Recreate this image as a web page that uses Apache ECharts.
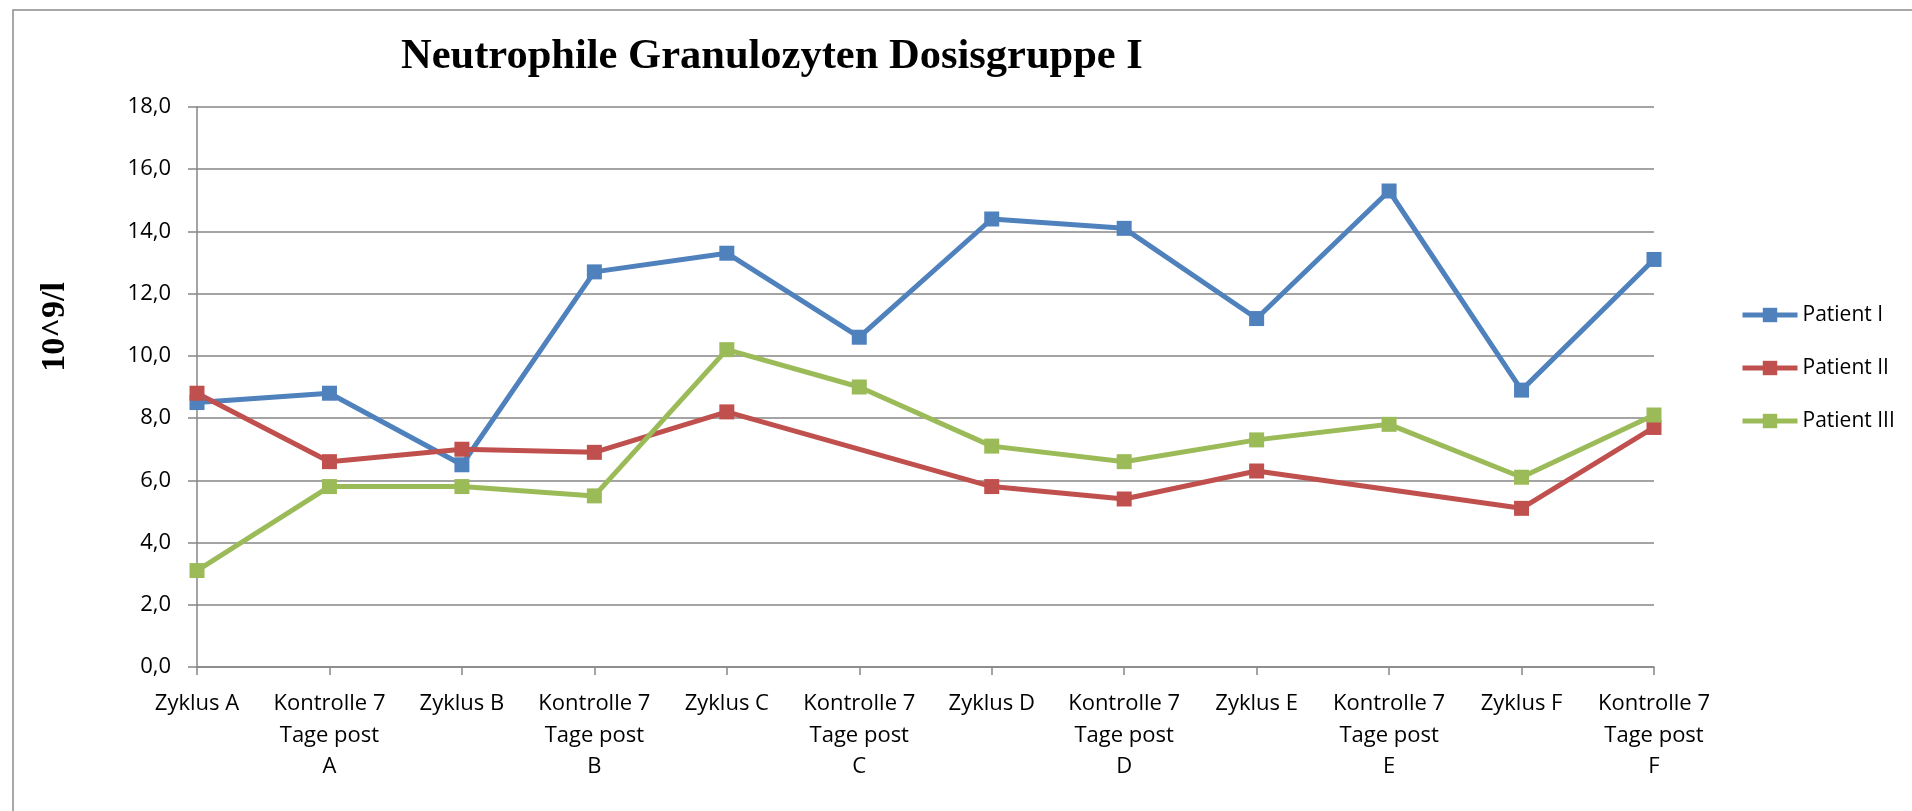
<!DOCTYPE html>
<html>
<head>
<meta charset="utf-8">
<script src="https://cdn.jsdelivr.net/npm/echarts@6/dist/echarts.min.js"></script>
<style>
  html, body { margin: 0; padding: 0; background: #fff; }
  #chart { width: 1912px; height: 811px; }
</style>
</head>
<body>
<div id="chart"></div>
<script>
// categories (x axis)
const categories = [
  "Zyklus A", "Kontrolle 7\nTage post\nA",
  "Zyklus B", "Kontrolle 7\nTage post\nB",
  "Zyklus C", "Kontrolle 7\nTage post\nC",
  "Zyklus D", "Kontrolle 7\nTage post\nD",
  "Zyklus E", "Kontrolle 7\nTage post\nE",
  "Zyklus F", "Kontrolle 7\nTage post\nF"
];
// series values, null = no measurement
const patient1 = [8.5, 8.8, 6.5, 12.7, 13.3, 10.6, 14.4, 14.1, 11.2, 15.3, 8.9, 13.1];
const patient2 = [8.8, 6.6, 7.0, 6.9, 8.2, null, 5.8, 5.4, 6.3, null, 5.1, 7.7];
const patient3 = [3.1, 5.8, 5.8, 5.5, 10.2, 9.0, 7.1, 6.6, 7.3, 7.8, 6.1, 8.1];
const seriesNames = ["Patient I", "Patient II", "Patient III"];
const colors = ["#4F81BD", "#C0504D", "#9BBB59"];

const chart = echarts.init(document.getElementById("chart"));

const mkSeries = (name, data, color) => ({
  name: name,
  type: "line",
  data: data,
  connectNulls: true,
  symbol: "rect",
  symbolSize: 15,
  color: color,
  lineStyle: { width: 5, color: color },
  itemStyle: { color: color },
  animation: false,
});

chart.setOption({
  backgroundColor: "#fff",
  title: {
    text: "Neutrophile Granulozyten Dosisgruppe I",
    left: 396,
    top: 31,
    textStyle: {
      fontFamily: "Liberation Serif",
      fontWeight: "bold",
      fontSize: 42.5,
      color: "#000",
    },
  },
  graphic: [
    // chart frame
    {
      type: "rect",
      shape: { x: 13, y: 10, width: 1920, height: 820 },
      style: { fill: "none", stroke: "#8c8c8c", lineWidth: 1.5 },
      silent: true,
    },
    {
      type: "text",
      x: 55,
      y: 327,
      rotation: Math.PI / 2,
      style: {
        text: "10^9/l",
        font: "bold 34px 'Liberation Serif'",
        fill: "#000",
        textAlign: "center",
        textVerticalAlign: "middle",
      },
    },
  ],
  legend: {
    orient: "vertical",
    left: 1735,
    top: 299,
    itemWidth: 55,
    itemHeight: 18,
    itemGap: 31,
    data: seriesNames,
    lineStyle: { width: 5 },
    textStyle: {
      fontFamily: "Open Sans",
      fontSize: 21,
      lineHeight: 22,
      color: "#000",
    },
  },
  grid: { left: 197, right: 258, top: 107, bottom: 144 },
  xAxis: {
    type: "category",
    data: categories,
    boundaryGap: false,
    axisLine: { lineStyle: { color: "#868686", width: 1.5 } },
    axisTick: { show: true, length: 8, lineStyle: { color: "#868686", width: 1.5 } },
    axisLabel: {
      interval: 0,
      margin: 21,
      fontFamily: "Open Sans",
      fontSize: 22,
      lineHeight: 31.5,
      color: "#000",
    },
  },
  yAxis: {
    type: "value",
    min: 0,
    max: 18,
    interval: 2,
    axisLine: { show: true, lineStyle: { color: "#868686", width: 1.5 } },
    axisTick: { show: true, length: 9, lineStyle: { color: "#868686", width: 1.5 } },
    splitLine: { lineStyle: { color: "#868686", width: 1.5 } },
    axisLabel: {
      margin: 26,
      fontFamily: "Open Sans",
      fontSize: 22,
      color: "#000",
      formatter: (v) => v.toFixed(1).replace(".", ","),
    },
  },
  series: [
    mkSeries(seriesNames[0], patient1, colors[0]),
    mkSeries(seriesNames[1], patient2, colors[1]),
    mkSeries(seriesNames[2], patient3, colors[2]),
  ],
});
</script>
</body>
</html>
